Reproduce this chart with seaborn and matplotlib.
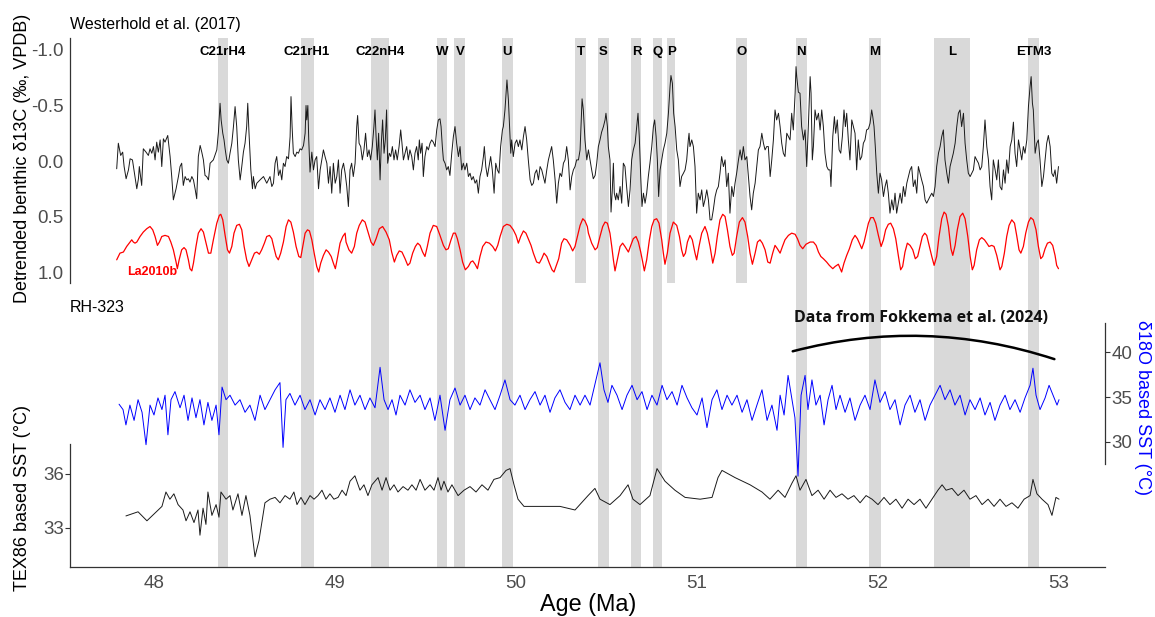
import matplotlib
matplotlib.use("Agg")
import matplotlib.pyplot as plt
import pandas as pd
import seaborn as sns
from matplotlib.patches import FancyArrowPatch, Rectangle

sns.set_theme(style="white")
plt.rcParams["font.family"] = ["Liberation Sans", "DejaVu Sans"]

# ---------------------------------------------------------------- data
# Westerhold et al. (2017) detrended benthic d13C (age Ma, permil)
westerhold = [
    (47.794,0.07),(47.803,-0.16),(47.816,-0.05),(47.827,-0.08),(47.835,0.05),(47.846,0.16),(47.859,0.08),(47.868,-0.02),
    (47.881,-0.01),(47.892,0.11),(47.905,0.25),(47.914,0.16),(47.919,0.05),(47.932,0.22),(47.941,-0.11),(47.956,-0.08),
    (47.969,-0.05),(47.978,-0.11),(47.988,-0.07),(47.997,-0.13),(48.006,-0.01),(48.015,-0.17),(48.024,-0.08),(48.034,-0.19),
    (48.043,0.05),(48.052,-0.20),(48.061,-0.17),(48.076,-0.23),(48.089,-0.04),(48.098,0.14),(48.107,0.35),(48.122,0.25),
    (48.135,0.14),(48.144,0.05),(48.153,0.02),(48.162,0.22),(48.172,0.14),(48.181,0.17),(48.190,0.16),(48.199,0.19),
    (48.209,0.14),(48.218,0.17),(48.227,0.25),(48.236,0.34),(48.245,-0.04),(48.255,-0.14),(48.264,-0.08),(48.273,-0.01),
    (48.282,0.13),(48.291,0.14),(48.301,0.17),(48.310,0.02),(48.328,-0.01),(48.347,-0.10),(48.356,-0.26),(48.365,-0.52),
    (48.371,-0.37),(48.380,-0.25),(48.387,-0.19),(48.393,-0.11),(48.402,-0.01),(48.411,0.02),(48.420,-0.07),(48.430,-0.16),
    (48.439,-0.31),(48.448,-0.49),(48.457,-0.31),(48.466,-0.01),(48.476,0.17),(48.485,0.05),(48.494,-0.08),(48.503,-0.16),
    (48.512,-0.31),(48.518,-0.52),(48.525,-0.25),(48.535,0.08),(48.544,0.25),(48.549,0.14),(48.559,0.25),(48.568,0.20),
    (48.586,0.17),(48.605,0.14),(48.623,0.20),(48.641,0.14),(48.651,0.23),(48.660,0.20),(48.669,0.02),(48.678,-0.04),
    (48.688,0.13),(48.697,0.08),(48.706,0.17),(48.715,0.02),(48.724,0.05),(48.733,-0.04),(48.743,-0.02),(48.752,-0.22),
    (48.757,-0.58),(48.763,-0.31),(48.770,-0.07),(48.780,-0.04),(48.789,-0.08),(48.798,-0.07),(48.807,-0.11),(48.816,-0.10),
    (48.826,-0.14),(48.835,-0.25),(48.840,-0.50),(48.844,-0.37),(48.850,-0.50),(48.855,-0.19),(48.862,0.10),(48.872,-0.08),
    (48.881,0.08),(48.890,-0.01),(48.899,-0.04),(48.909,0.25),(48.918,0.08),(48.927,-0.01),(48.936,-0.10),(48.945,-0.04),
    (48.955,0.02),(48.964,0.20),(48.973,0.05),(48.982,0.29),(48.991,0.02),(49.001,0.20),(49.010,0.14),(49.019,-0.01),
    (49.028,0.29),(49.037,0.08),(49.047,0.02),(49.056,0.11),(49.065,0.23),(49.074,0.41),
    (49.083,0.08),(49.092,0.02),(49.101,0.14),(49.111,0.02),(49.120,-0.31),(49.125,-0.41),(49.133,-0.16),(49.142,-0.13),
    (49.151,-0.01),(49.160,-0.10),(49.169,-0.25),(49.179,-0.04),(49.188,-0.10),(49.197,-0.01),(49.206,-0.13),(49.215,-0.31),
    (49.221,-0.46),(49.227,-0.22),(49.234,-0.01),(49.241,-0.25),(49.249,0.17),(49.256,-0.16),(49.263,-0.37),(49.271,-0.07),
    (49.278,-0.19),(49.285,-0.46),(49.291,0.02),(49.300,-0.07),(49.308,-0.04),(49.317,-0.13),(49.326,-0.01),(49.335,-0.10),
    (49.344,-0.01),(49.354,-0.13),(49.363,-0.28),(49.370,-0.16),(49.378,-0.01),(49.387,-0.07),(49.396,-0.13),(49.405,-0.01),
    (49.414,-0.10),(49.424,-0.04),(49.433,0.08),(49.442,-0.07),(49.451,-0.13),(49.460,-0.01),(49.466,-0.19),(49.473,-0.07),
    (49.481,-0.16),(49.488,0.14),(49.497,-0.04),(49.507,-0.13),(49.516,-0.10),(49.525,-0.16),(49.534,-0.19),(49.543,-0.17),
    (49.553,-0.13),(49.562,-0.28),(49.571,-0.37),(49.580,-0.38),(49.586,-0.31),(49.593,-0.13),(49.599,-0.01),(49.608,0.02),
    (49.617,0.08),(49.626,0.05),(49.635,0.13),(49.645,-0.07),(49.654,-0.22),(49.663,-0.31),(49.672,-0.16),(49.682,-0.04),
    (49.691,-0.13),(49.700,0.08),(49.709,0.02),(49.718,0.08),(49.728,0.02),(49.737,0.14),(49.746,0.11),(49.755,0.17),
    (49.764,0.14),(49.774,0.20),(49.783,0.17),(49.792,0.29),(49.801,0.14),(49.810,0.08),(49.820,-0.04),(49.825,-0.13),
    (49.833,0.05),(49.842,0.14),(49.851,0.05),(49.860,-0.04),(49.869,0.08),(49.879,0.29),(49.888,0.02),(49.897,0.08),
    (49.906,0.11),(49.915,-0.13),(49.925,-0.28),(49.930,-0.31),(49.939,-0.46),(49.945,-0.61),(49.950,-0.73),(49.958,-0.55),
    (49.963,-0.37),(49.971,-0.07),(49.976,-0.19),(49.985,-0.04),(49.995,-0.16),(50.004,-0.19),(50.013,-0.13),(50.022,-0.19),
    (50.032,-0.10),(50.041,-0.22),(50.050,-0.31),(50.059,-0.19),(50.068,-0.01),(50.078,0.17),(50.087,0.22),(50.096,0.20),
    (50.105,0.11),(50.114,0.08),(50.124,0.17),(50.133,0.05),(50.142,0.08),(50.151,0.14),(50.160,0.20),(50.170,0.08),
    (50.179,-0.01),(50.188,-0.07),(50.197,-0.13),(50.206,-0.01),(50.216,0.17),(50.225,0.38),(50.234,0.20),(50.243,0.11),
    (50.252,0.14),(50.262,0.02),(50.271,-0.01),(50.280,-0.13),(50.289,-0.01),(50.299,0.26),(50.308,0.14),(50.317,0.08),
    (50.326,0.05),(50.335,-0.01),(50.345,-0.01),(50.354,-0.10),(50.359,-0.31),(50.365,-0.56),(50.372,-0.46),(50.381,-0.19),
    (50.391,-0.01),(50.400,-0.10),
    (50.409,-0.01),(50.418,0.08),(50.427,0.16),(50.437,0.13),(50.446,0.02),(50.455,-0.13),(50.464,-0.19),(50.473,-0.26),
    (50.483,-0.31),(50.492,-0.37),(50.497,-0.43),(50.505,-0.31),(50.510,-0.13),(50.519,-0.01),(50.525,0.46),(50.532,0.26),
    (50.538,0.02),(50.543,0.29),(50.551,0.35),(50.556,0.29),(50.565,0.35),(50.575,0.23),(50.584,0.38),(50.593,0.02),
    (50.602,0.05),(50.611,0.23),(50.621,0.41),(50.630,0.26),(50.639,-0.01),(50.648,-0.10),(50.658,-0.16),(50.667,-0.31),
    (50.674,-0.43),(50.681,-0.22),(50.689,0.14),(50.696,0.41),(50.704,0.29),(50.713,0.38),(50.722,0.29),(50.731,0.14),
    (50.740,0.02),(50.750,-0.13),(50.759,-0.31),(50.766,-0.37),(50.774,-0.22),(50.781,-0.01),(50.788,0.32),(50.796,0.08),
    (50.805,-0.01),(50.814,-0.10),(50.823,-0.16),(50.833,-0.25),(50.842,-0.43),(50.851,-0.67),(50.856,-0.77),(50.864,-0.70),
    (50.871,-0.43),(50.879,-0.31),(50.888,-0.10),(50.897,-0.01),(50.906,0.23),(50.915,0.14),(50.925,0.11),(50.934,0.08),
    (50.943,-0.01),(50.952,-0.19),(50.956,-0.25),(50.961,-0.13),(50.971,-0.19),(50.980,-0.13),(50.989,0.05),(50.998,0.47),
    (51.007,0.29),(51.017,0.35),(51.026,0.26),(51.035,0.41),(51.044,0.35),(51.054,0.26),(51.063,0.35),(51.072,0.53),
    (51.081,0.53),(51.090,0.44),(51.100,0.32),(51.109,0.26),(51.118,0.23),(51.127,0.11),(51.136,-0.04),(51.146,0.05),
    (51.155,-0.01),(51.164,0.23),(51.173,0.11),(51.182,0.47),(51.192,0.23),(51.201,0.32),(51.210,0.20),(51.219,0.11),
    (51.229,-0.01),(51.238,-0.10),(51.247,-0.01),(51.256,-0.13),(51.265,-0.01),(51.275,-0.04),(51.284,0.14),(51.293,0.32),
    (51.302,0.44),(51.311,0.29),(51.321,0.20),(51.330,0.05),(51.339,-0.10),(51.348,-0.13),(51.358,-0.25),(51.367,-0.16),
    (51.376,-0.10),(51.385,-0.13),(51.394,-0.13),(51.404,0.14),(51.413,-0.01),(51.422,-0.19),(51.431,-0.46),(51.440,-0.37),
    (51.450,-0.43),(51.459,-0.31),(51.468,-0.16),(51.477,-0.07),(51.486,-0.04),(51.496,-0.25),(51.505,-0.22),(51.514,-0.19),
    (51.523,-0.43),(51.532,-0.28),(51.542,-0.61),(51.547,-0.85),(51.551,-0.76),(51.560,-0.62),(51.569,-0.61),(51.578,-0.31),
    (51.588,-0.19),(51.597,-0.28),(51.606,0.05),(51.615,-0.31),(51.625,-0.76),(51.630,-0.61),(51.637,-0.01),(51.643,-0.13),
    (51.652,-0.46),(51.661,-0.37),(51.671,-0.43),(51.680,-0.28),(51.689,-0.46),(51.698,-0.31),(51.707,-0.07),(51.717,0.05),
    (51.726,0.08),
    (51.735,0.08),(51.740,0.23),(51.750,-0.22),(51.759,-0.40),(51.766,-0.25),(51.775,-0.37),(51.785,-0.10),(51.794,-0.07),
    (51.803,-0.22),(51.812,-0.46),(51.820,-0.31),(51.827,-0.43),(51.836,-0.19),(51.845,-0.01),(51.855,-0.37),(51.864,-0.31),
    (51.873,-0.25),(51.882,0.08),(51.891,-0.19),(51.901,-0.01),(51.910,-0.04),(51.919,-0.16),(51.928,-0.19),(51.937,-0.28),
    (51.947,-0.29),(51.956,-0.34),(51.965,-0.46),(51.971,-0.40),(51.978,-0.31),(51.985,-0.13),(51.993,0.11),(52.002,0.29),
    (52.011,0.11),(52.020,0.17),(52.030,0.32),(52.039,0.23),(52.048,0.17),(52.057,0.29),(52.066,0.47),(52.076,0.35),
    (52.085,0.44),(52.094,0.29),(52.103,0.47),(52.112,0.38),(52.122,0.29),(52.131,0.38),(52.140,0.23),(52.149,0.32),
    (52.159,0.20),(52.168,0.14),(52.177,0.08),(52.186,0.05),(52.195,0.23),(52.205,0.17),(52.214,0.29),(52.223,0.05),
    (52.232,0.11),(52.241,0.17),(52.251,0.23),(52.260,0.35),(52.269,0.38),(52.278,0.35),(52.287,0.32),(52.297,0.29),
    (52.306,0.32),(52.315,0.23),(52.324,0.05),(52.334,-0.07),(52.343,-0.13),(52.352,-0.22),(52.361,-0.28),(52.370,-0.01),
    (52.380,0.11),(52.389,0.20),(52.398,0.05),(52.407,-0.01),(52.416,-0.07),(52.426,-0.16),(52.435,-0.31),(52.444,-0.43),
    (52.453,-0.46),(52.462,-0.31),(52.472,-0.43),(52.481,-0.16),(52.490,-0.01),(52.499,0.11),(52.509,0.14),(52.518,0.11),
    (52.527,0.08),(52.536,-0.04),(52.545,-0.01),(52.555,0.02),(52.564,0.08),(52.573,0.05),(52.582,-0.13),(52.591,-0.37),
    (52.601,-0.13),(52.610,-0.01),(52.619,0.23),(52.628,0.35),(52.637,-0.01),(52.647,0.08),(52.656,0.17),(52.665,-0.01),
    (52.674,0.23),(52.684,0.26),(52.693,0.08),(52.702,0.20),(52.711,-0.01),(52.720,0.11),(52.730,-0.13),(52.739,-0.19),
    (52.748,-0.35),(52.757,-0.07),(52.766,0.05),(52.776,-0.19),(52.785,-0.10),(52.794,-0.01),(52.803,-0.13),(52.812,-0.07),
    (52.822,-0.19),(52.831,-0.49),(52.840,-0.67),(52.846,-0.76),(52.853,-0.52),(52.858,-0.46),(52.868,-0.07),(52.877,-0.16),
    (52.886,-0.19),(52.895,-0.01),(52.905,0.23),(52.914,0.14),(52.923,-0.01),(52.932,-0.16),(52.941,-0.23),(52.951,-0.13),
    (52.960,0.11),(52.969,0.14),(52.978,0.08),(52.987,0.20),(52.997,0.05),
]

# La2010b eccentricity solution, scaled onto the d13C axis
la2010b = [
    (47.794,0.89),(47.812,0.83),(47.831,0.82),(47.849,0.77),(47.868,0.73),(47.877,0.71),(47.886,0.73),(47.895,0.74),
    (47.905,0.73),(47.923,0.68),(47.941,0.64),(47.960,0.61),(47.978,0.59),(47.993,0.62),(48.006,0.68),(48.019,0.76),
    (48.030,0.73),(48.043,0.68),(48.061,0.67),(48.080,0.68),(48.093,0.73),(48.107,0.80),(48.122,0.91),(48.129,0.97),
    (48.139,0.89),(48.153,0.80),(48.166,0.78),(48.177,0.80),(48.190,0.89),(48.199,0.97),(48.209,0.99),(48.218,0.92),
    (48.232,0.77),(48.245,0.65),(48.260,0.61),(48.273,0.64),(48.288,0.74),(48.301,0.83),(48.314,0.83),(48.328,0.71),
    (48.347,0.56),(48.361,0.49),(48.369,0.48),(48.380,0.53),(48.393,0.67),(48.406,0.80),(48.417,0.83),(48.430,0.77),
    (48.442,0.65),(48.457,0.58),(48.472,0.57),(48.485,0.62),(48.498,0.77),(48.512,0.89),(48.525,0.95),(48.540,0.89),
    (48.555,0.83),(48.568,0.82),(48.582,0.84),(48.595,0.80),(48.610,0.74),(48.623,0.68),(48.638,0.67),(48.651,0.70),
    (48.664,0.79),(48.675,0.86),(48.687,0.89),(48.700,0.83),(48.715,0.73),(48.730,0.59),(48.743,0.53),(48.756,0.55),
    (48.770,0.64),(48.785,0.77),(48.800,0.86),(48.811,0.87),(48.822,0.77),(48.835,0.65),(48.848,0.62),(48.859,0.63),
    (48.872,0.71),(48.885,0.83),(48.899,0.95),(48.910,1.00),(48.921,0.92),(48.936,0.85),(48.951,0.80),(48.964,0.82),
    (48.979,0.86),(48.991,0.92),(49.002,0.97),(49.015,0.86),(49.028,0.74),(49.043,0.68),(49.056,0.65),
    (49.061,0.73),(49.077,0.80),(49.092,0.83),(49.107,0.77),(49.120,0.65),(49.134,0.58),(49.151,0.53),(49.166,0.55),
    (49.184,0.65),(49.199,0.73),(49.212,0.76),(49.227,0.70),(49.245,0.61),(49.263,0.59),(49.282,0.64),(49.300,0.71),
    (49.313,0.82),(49.328,0.91),(49.341,0.85),(49.355,0.81),(49.370,0.82),(49.387,0.88),(49.402,0.94),(49.414,0.92),
    (49.429,0.83),(49.444,0.77),(49.457,0.74),(49.470,0.76),(49.484,0.82),(49.497,0.86),(49.510,0.77),(49.525,0.65),
    (49.543,0.58),(49.562,0.59),(49.580,0.67),(49.599,0.76),(49.613,0.80),(49.626,0.79),(49.641,0.71),(49.654,0.65),
    (49.665,0.65),(49.676,0.70),(49.691,0.80),(49.705,0.91),(49.720,0.98),(49.737,0.95),(49.750,0.91),(49.761,0.90),
    (49.774,0.93),(49.787,0.97),(49.801,0.86),(49.816,0.77),(49.834,0.73),(49.853,0.74),(49.871,0.77),(49.886,0.81),
    (49.899,0.76),(49.912,0.68),(49.930,0.59),(49.949,0.57),(49.967,0.58),(49.985,0.62),(50.000,0.67),(50.013,0.74),
    (50.026,0.68),(50.041,0.63),(50.055,0.65),(50.068,0.70),(50.083,0.76),(50.096,0.83),(50.114,0.91),(50.129,0.92),
    (50.142,0.88),(50.155,0.83),(50.170,0.86),(50.184,0.92),(50.199,0.98),(50.210,1.00),(50.221,0.95),(50.236,0.88),
    (50.252,0.74),(50.265,0.70),(50.280,0.71),(50.299,0.76),(50.313,0.81),(50.326,0.77),(50.339,0.68),(50.354,0.58),
    (50.369,0.52),(50.381,0.54),(50.394,0.59),
    (50.400,0.65),(50.418,0.74),(50.437,0.80),(50.449,0.78),(50.464,0.68),(50.479,0.59),(50.492,0.55),(50.505,0.56),
    (50.519,0.65),(50.529,0.77),(50.538,0.89),(50.547,0.99),(50.560,0.89),(50.575,0.77),(50.589,0.74),(50.602,0.77),
    (50.621,0.82),(50.634,0.76),(50.648,0.70),(50.663,0.68),(50.676,0.73),(50.689,0.82),(50.700,0.91),(50.709,0.99),
    (50.722,0.89),(50.737,0.71),(50.750,0.59),(50.763,0.53),(50.777,0.52),(50.790,0.56),(50.805,0.71),(50.814,0.83),
    (50.823,0.93),(50.836,0.83),(50.851,0.65),(50.869,0.55),(50.888,0.58),(50.903,0.68),(50.915,0.80),(50.925,0.86),
    (50.936,0.83),(50.947,0.73),(50.961,0.67),(50.974,0.71),(50.989,0.83),(50.998,0.89),(51.011,0.77),(51.026,0.65),
    (51.044,0.59),(51.057,0.65),(51.072,0.77),(51.087,0.92),(51.100,0.83),(51.112,0.68),(51.127,0.53),(51.142,0.48),
    (51.155,0.50),(51.168,0.62),(51.182,0.77),(51.195,0.85),(51.205,0.83),(51.219,0.68),(51.234,0.55),(51.251,0.51),
    (51.265,0.55),(51.280,0.68),(51.293,0.83),(51.306,0.93),(51.321,0.83),(51.334,0.73),(51.348,0.71),(51.361,0.74),
    (51.376,0.80),(51.391,0.91),(51.404,0.92),(51.418,0.83),(51.431,0.76),(51.444,0.79),(51.459,0.83),(51.472,0.77),
    (51.486,0.71),(51.505,0.67),(51.523,0.65),(51.542,0.66),(51.555,0.70),(51.569,0.76),(51.584,0.79),(51.602,0.75),
    (51.625,0.73),(51.643,0.73),(51.658,0.76),(51.671,0.82),(51.684,0.86),(51.698,0.88),
    (51.716,0.91),(51.731,0.94),(51.750,0.97),(51.763,0.95),(51.781,0.93),(51.794,0.98),(51.799,1.00),(51.812,0.92),
    (51.827,0.85),(51.842,0.79),(51.858,0.71),(51.873,0.67),(51.886,0.70),(51.897,0.74),(51.910,0.79),(51.923,0.73),
    (51.934,0.65),(51.947,0.56),(51.960,0.51),(51.974,0.51),(51.987,0.56),(52.002,0.67),(52.017,0.77),(52.030,0.71),
    (52.042,0.62),(52.057,0.57),(52.070,0.56),(52.085,0.61),(52.098,0.70),(52.113,0.86),(52.125,0.98),(52.136,0.95),
    (52.149,0.82),(52.162,0.74),(52.177,0.76),(52.192,0.80),(52.206,0.88),(52.219,0.86),(52.232,0.77),(52.245,0.68),
    (52.258,0.65),(52.269,0.67),(52.282,0.76),(52.297,0.86),(52.310,0.94),(52.324,0.86),(52.337,0.68),(52.352,0.52),
    (52.365,0.46),(52.376,0.48),(52.389,0.59),(52.403,0.79),(52.413,0.85),(52.426,0.76),(52.438,0.62),(52.453,0.50),
    (52.468,0.47),(52.481,0.52),(52.496,0.68),(52.509,0.86),(52.521,0.98),(52.531,0.94),(52.545,0.80),(52.560,0.71),
    (52.573,0.69),(52.588,0.71),(52.601,0.74),(52.613,0.77),(52.628,0.76),(52.641,0.77),(52.656,0.85),(52.674,0.98),
    (52.684,0.95),(52.698,0.83),(52.711,0.68),(52.724,0.58),(52.739,0.53),(52.754,0.56),(52.766,0.67),(52.779,0.80),
    (52.789,0.83),(52.803,0.77),(52.816,0.65),(52.831,0.55),(52.844,0.51),(52.858,0.53),(52.873,0.62),(52.886,0.77),
    (52.899,0.88),(52.910,0.86),(52.923,0.79),(52.936,0.74),(52.951,0.73),(52.965,0.76),(52.978,0.85),(52.987,0.94),
    (52.997,0.97),
]

# RH-323 delta18O-based SST (degC)
d18o_sst = [
    (47.807,34.2),(47.829,33.6),(47.845,31.9),(47.867,34.1),(47.890,32.4),(47.912,34.7),(47.934,33.3),(47.956,29.7),
    (47.978,34.1),(48.000,33.0),(48.022,34.9),(48.044,33.6),(48.061,35.2),(48.077,30.8),(48.094,34.7),(48.116,35.6),
    (48.144,33.8),(48.166,35.2),(48.188,32.4),(48.210,34.9),(48.232,32.7),(48.254,34.7),(48.276,31.9),(48.298,34.4),
    (48.320,32.4),(48.343,34.1),(48.359,30.8),(48.376,36.1),(48.398,34.7),(48.420,35.2),(48.448,34.1),(48.475,34.7),
    (48.503,33.3),(48.530,34.1),(48.558,32.4),(48.586,35.2),(48.613,33.6),(48.641,34.7),(48.669,35.8),(48.696,36.6),
    (48.713,29.4),(48.729,34.7),(48.751,35.4),(48.779,34.1),(48.807,35.2),(48.834,33.6),(48.862,34.7),(48.890,33.0),
    (48.917,34.7),(48.945,33.6),(48.972,34.9),(49.000,33.3),(49.028,35.2),(49.055,33.6),(49.083,35.8),(49.110,34.1),
    (49.138,35.2),(49.166,33.6),(49.193,34.9),(49.221,33.8),(49.249,38.3),(49.271,34.7),(49.293,33.6),(49.315,34.7),
    (49.337,33.0),(49.359,35.2),(49.387,34.1),(49.414,35.8),(49.442,34.4),(49.470,35.2),(49.497,33.6),(49.525,34.9),
    (49.552,32.4),(49.580,35.2),(49.608,31.3),(49.635,34.7),(49.663,36.0),(49.691,34.1),(49.718,35.2),(49.746,33.6),
    (49.773,34.9),(49.801,34.1),(49.829,35.8),(49.856,34.7),(49.884,33.6),(49.912,35.2),(49.939,36.9),(49.967,34.7),
    (49.994,34.1),(50.022,35.2),(50.050,33.6),(50.077,34.7),(50.105,35.6),(50.133,34.1),(50.160,35.2),(50.188,33.3),
    (50.215,34.9),(50.243,35.8),(50.271,34.4),(50.298,33.6),(50.326,35.2),(50.354,34.1),(50.381,35.2),(50.409,34.1),
    (50.442,36.9),(50.464,38.8),(50.486,35.8),(50.508,34.4),(50.530,36.3),(50.558,35.2),(50.586,33.6),(50.613,35.2),
    (50.641,36.3),(50.669,34.7),(50.696,35.6),(50.724,33.6),(50.751,35.2),(50.779,34.1),(50.807,36.3),(50.834,34.7),
    (50.862,35.6),(50.890,34.1),(50.917,36.3),(50.945,34.9),(50.972,33.8),(51.000,33.0),(51.028,34.9),(51.055,31.6),
    (51.083,34.7),(51.110,35.8),(51.138,33.6),(51.166,35.2),(51.193,34.1),(51.221,35.2),(51.249,33.3),(51.276,34.7),
    (51.304,32.4),(51.331,34.1),(51.359,35.8),(51.387,32.4),(51.414,34.1),(51.442,31.3),(51.459,35.2),(51.481,33.0),
    (51.503,37.4),(51.525,34.7),(51.541,32.7),(51.558,26.2),(51.575,35.2),(51.597,37.4),(51.613,33.6),(51.635,36.9),
    (51.657,34.1),(51.680,35.2),(51.702,31.9),(51.724,34.7),(51.746,36.3),(51.768,33.6),(51.790,35.2),(51.818,33.3),
    (51.845,34.9),(51.873,32.4),(51.901,34.1),(51.928,35.2),(51.956,33.6),(51.983,36.9),(52.011,34.4),(52.039,35.6),
    (52.066,33.6),(52.094,34.7),(52.122,31.9),(52.149,34.1),(52.177,35.2),(52.204,33.3),(52.232,34.7),(52.260,32.4),
    (52.287,34.1),(52.315,35.2),(52.343,36.3),(52.370,34.7),(52.398,35.8),(52.425,34.1),(52.453,35.2),(52.481,33.0),
    (52.508,34.7),(52.536,33.6),(52.564,34.9),(52.591,33.0),(52.619,34.4),(52.646,32.4),(52.674,34.1),(52.702,35.2),
    (52.729,33.6),(52.757,34.7),(52.785,33.3),(52.812,34.9),(52.840,36.3),(52.856,38.2),(52.873,35.2),(52.895,33.6),
    (52.923,34.9),(52.945,36.3),(52.967,35.2),(52.989,34.1),(53.000,34.7),
]

# RH-323 TEX86-based SST (degC)
tex86_sst = [
    (47.845,33.67),(47.912,33.9),(47.961,33.4),(48.044,34.2),(48.066,35.0),(48.088,34.6),(48.110,34.9),(48.133,34.3),
    (48.160,34.0),(48.177,33.4),(48.199,33.9),(48.221,33.3),(48.243,34.0),(48.254,32.6),(48.271,34.1),(48.287,33.2),
    (48.298,35.0),(48.320,33.7),(48.343,34.3),(48.359,33.6),(48.370,35.0),(48.398,34.6),(48.420,34.8),(48.436,34.0),
    (48.464,34.9),(48.486,33.7),(48.508,34.8),(48.530,33.7),(48.558,31.4),(48.580,32.3),(48.613,34.4),(48.641,34.6),
    (48.669,34.7),(48.696,34.4),(48.724,34.8),(48.751,34.6),(48.773,35.0),(48.790,34.3),(48.812,34.7),(48.834,34.3),
    (48.862,34.8),(48.884,34.6),(48.906,34.8),(48.928,35.1),(48.950,34.6),(48.972,34.9),(48.994,34.6),(49.017,34.7),
    (49.039,35.1),(49.061,34.8),(49.083,35.6),(49.110,35.9),(49.138,35.1),(49.160,35.4),(49.182,34.8),(49.204,35.4),
    (49.238,35.8),(49.260,35.1),(49.282,35.8),(49.304,35.1),(49.326,35.4),(49.348,35.0),(49.376,35.3),(49.403,35.1),
    (49.425,35.4),(49.448,35.1),(49.470,35.7),(49.497,35.1),(49.525,35.4),(49.547,35.1),(49.569,35.8),(49.586,35.1),
    (49.602,35.6),(49.624,35.0),(49.646,35.4),(49.680,34.8),(49.713,35.1),(49.746,35.3),(49.779,35.0),(49.812,35.4),
    (49.845,35.1),(49.878,35.7),(49.912,35.8),(49.945,36.2),(49.967,36.3),(49.989,35.4),(50.011,34.6),(50.044,34.2),
    (50.133,34.2),(50.243,34.2),(50.326,34.0),(50.398,34.8),(50.436,35.2),(50.464,34.6),(50.519,34.3),(50.575,34.8),
    (50.619,35.4),(50.646,34.6),(50.685,34.3),(50.740,34.8),(50.779,36.3),(50.823,35.6),(50.878,35.1),(50.934,34.7),
    (51.017,34.6),(51.083,34.7),(51.116,35.8),(51.138,36.2),(51.210,35.8),(51.293,35.4),(51.359,35.0),(51.403,34.6),
    (51.448,35.1),(51.486,34.7),(51.525,35.5),(51.547,35.9),(51.569,35.1),(51.602,35.7),(51.635,34.8),(51.669,35.1),
    (51.702,34.6),(51.735,35.1),(51.768,34.7),(51.801,34.9),(51.834,34.6),(51.867,34.8),(51.901,34.4),(51.934,34.8),
    (51.967,34.6),(52.000,34.3),(52.033,34.7),(52.066,34.3),(52.099,34.6),(52.133,34.1),(52.166,34.6),(52.199,34.3),
    (52.232,34.6),(52.265,34.1),(52.298,34.6),(52.331,35.1),(52.354,35.4),(52.376,35.1),(52.409,35.2),(52.442,34.8),
    (52.475,35.1),(52.508,34.6),(52.541,34.8),(52.575,34.3),(52.608,34.6),(52.641,34.2),(52.674,34.6),(52.707,34.2),
    (52.740,34.4),(52.773,34.1),(52.807,34.6),(52.840,34.8),(52.856,35.7),(52.878,34.9),(52.906,34.6),(52.939,34.3),
    (52.961,33.7),(52.983,34.7),(53.000,34.6),
]

# Hyperthermal events (label, start Ma, end Ma)
event_labels = ["C21rH4", "C21rH1", "C22nH4", "W", "V", "U", "T", "S", "R", "Q", "P", "O", "N", "M", "L", "ETM3"]
event_start = [48.355, 48.810, 49.200, 49.563, 49.660, 49.922, 50.326, 50.455, 50.638, 50.759, 50.836, 51.217, 51.548, 51.949, 52.309, 52.831]
event_end = [48.408, 48.882, 49.300, 49.620, 49.720, 49.983, 50.389, 50.512, 50.693, 50.806, 50.878, 51.275, 51.605, 52.017, 52.507, 52.890]
upper_only = ["T", "P", "O"]  # shaded in the d13C panel only

age_ticks = [48, 49, 50, 51, 52, 53]
d13c_ticks = [-1.0, -0.5, 0.0, 0.5, 1.0]
tex_ticks = [33, 36]
d18o_ticks = [30, 35, 40]

# ---------------------------------------------------------------- figure
W, H = 1155, 617
fig = plt.figure(figsize=(W / 100, H / 100), dpi=100)

def frac_box(x0, y0, x1, y1):
    return [x0 / W, 1 - y1 / H, (x1 - x0) / W, (y1 - y0) / H]

ax_top = fig.add_axes(frac_box(70, 38, 1105, 290))
ax_bot = fig.add_axes(frac_box(70, 290, 1105, 567))
ax_d18 = ax_bot.twinx()

XLIM = (47.536, 53.254)
TOP_LIM = (1.162, -1.108)
TEX_LIM = (30.833, 46.222)
D18_LIM = (16.111, 46.889)

band_color = "#D9D9D9"
axis_color = "#333333"
label_color = "#4D4D4D"
TICK_SIZE = 13.5
TITLE_SIZE = 13

for ax in (ax_top, ax_bot, ax_d18):
    ax.set_xlim(*XLIM)
    ax.set_facecolor("none")
ax_top.set_ylim(*TOP_LIM)
ax_bot.set_ylim(*TEX_LIM)
ax_d18.set_ylim(*D18_LIM)
ax_bot.set_zorder(1)
ax_d18.set_zorder(2)
ax_top.set_zorder(3)

# shaded event intervals
for lab, a0, a1 in zip(event_labels, event_start, event_end):
    if lab in upper_only:
        ax_top.add_patch(Rectangle((a0, TOP_LIM[1]), a1 - a0, 1.1 - TOP_LIM[1],
                                   facecolor=band_color, edgecolor="none", zorder=0))
    else:
        ax_top.axvspan(a0, a1, color=band_color, lw=0, zorder=0)
        ax_bot.axvspan(a0, a1, color=band_color, lw=0, zorder=0)
    ax_top.text((a0 + a1) / 2, -0.98, lab, ha="center", va="center",
                fontsize=9.5, fontweight="bold", color="black", zorder=5)

# series
w_df = pd.DataFrame(westerhold, columns=["age", "value"])
la_df = pd.DataFrame(la2010b, columns=["age", "value"])
d18_df = pd.DataFrame(d18o_sst, columns=["age", "sst"])
tex_df = pd.DataFrame(tex86_sst, columns=["age", "sst"])

sns.lineplot(data=w_df, x="age", y="value", ax=ax_top, color="#1a1a1a", linewidth=0.7,
             estimator=None, sort=False, zorder=3)
sns.lineplot(data=la_df, x="age", y="value", ax=ax_top, color="#FF0000", linewidth=0.9,
             estimator=None, sort=False, zorder=3)
sns.lineplot(data=d18_df, x="age", y="sst", ax=ax_d18, color="#0000FF", linewidth=0.7,
             estimator=None, sort=False, zorder=3)
sns.lineplot(data=tex_df, x="age", y="sst", ax=ax_bot, color="#1a1a1a", linewidth=0.7,
             estimator=None, sort=False, zorder=3)

ax_top.text(47.99, 1.0, "La2010b", color="#FF0000", fontsize=9, fontweight="bold",
            ha="center", va="center")

# axes styling
for ax in (ax_top, ax_bot, ax_d18):
    for s in ax.spines.values():
        s.set_visible(False)
        s.set_color(axis_color)
        s.set_linewidth(0.9)
    ax.set_xlabel("")
    ax.set_ylabel("")
    ax.grid(False)
    ax.tick_params(colors=axis_color, labelcolor=label_color, labelsize=TICK_SIZE,
                   length=3.5, width=0.8, direction="out", pad=1)

ax_top.spines["left"].set_visible(True)
ax_top.spines["left"].set_bounds(TOP_LIM[1], 1.1)
ax_top.set_yticks(d13c_ticks)
ax_top.set_yticklabels([f"{t:.1f}" for t in d13c_ticks])
ax_top.set_xticks([])

ax_bot.spines["left"].set_visible(True)
ax_bot.spines["left"].set_bounds(TEX_LIM[0], 37.667)
ax_bot.spines["bottom"].set_visible(True)
ax_bot.set_yticks(tex_ticks)
ax_bot.set_xticks(age_ticks)
ax_bot.set_xticklabels([str(t) for t in age_ticks])
ax_bot.tick_params(axis="x", pad=2)

ax_d18.spines["right"].set_visible(True)
ax_d18.spines["right"].set_bounds(27.556, 43.222)
ax_d18.set_yticks(d18o_ticks)
ax_d18.yaxis.set_ticks_position("right")
ax_d18.tick_params(axis="x", bottom=False, labelbottom=False)

# labels and titles
fig.text(23 / W, 1 - 158 / H, "Detrended benthic \u03b413C (\u2030, VPDB)", rotation=90,
         ha="center", va="center", fontsize=TITLE_SIZE, color="black")
fig.text(23 / W, 1 - 498 / H, "TEX86 based SST (\u00b0C)", rotation=90,
         ha="center", va="center", fontsize=TITLE_SIZE, color="black")
fig.text(1143 / W, 1 - 408 / H, "\u03b418O based SST (\u00b0C)", rotation=270,
         ha="center", va="center", fontsize=TITLE_SIZE, color="#0000FF")
fig.text(588 / W, 1 - 605 / H, "Age (Ma)", ha="center", va="center", fontsize=16.8, color="black")
fig.text(70 / W, 1 - 24 / H, "Westerhold et al. (2017)", ha="left", va="center",
         fontsize=11.5, color="black")
fig.text(70 / W, 1 - 308 / H, "RH-323", ha="left", va="center", fontsize=11.5, color="black")

fig.text(921 / W, 1 - 318 / H, "Data from Fokkema et al. (2024)", ha="center", va="center",
         fontsize=11.5, fontweight="bold", family=["Open Sans", "DejaVu Sans"], color="#111111")
arc = FancyArrowPatch((51.514, 40.0), (52.989, 39.11), transform=ax_d18.transData,
                      arrowstyle="-", connectionstyle="arc3,rad=-0.15",
                      color="black", linewidth=1.8, zorder=6)
ax_d18.add_patch(arc)

fig.savefig("out.png", dpi=100)
